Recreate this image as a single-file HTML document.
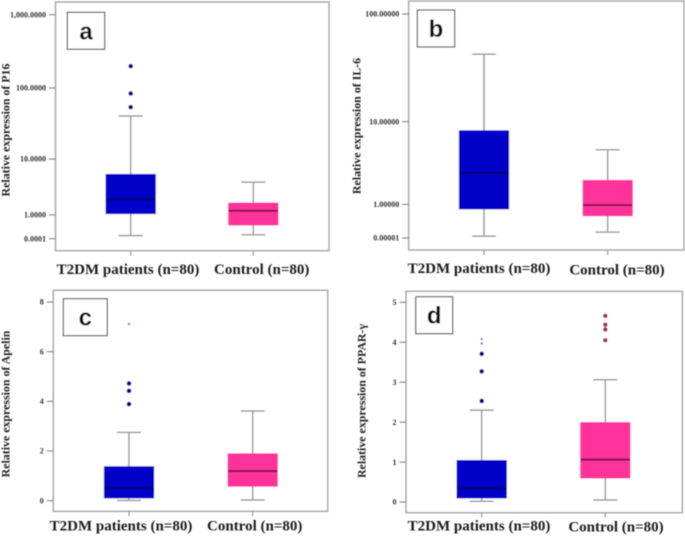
<!DOCTYPE html>
<html lang="en">
<head>
<meta charset="utf-8">
<title>Relative expression box plots</title>
<style>
html,body{margin:0;padding:0;background:#fff;}
svg{display:block;}
.tick-label{font:bold 8px "Liberation Serif",serif;fill:#333;}
.y-title{font:bold 11.9px "Liberation Serif",serif;fill:#222;}
.x-label{font:bold 15px "Liberation Serif",serif;fill:#1c1c1c;}
.letter{font:bold 24px "Liberation Sans",sans-serif;fill:#111;}
</style>
</head>
<body>
<svg id="chart" xmlns="http://www.w3.org/2000/svg" width="685" height="536" viewBox="0 0 685 536">
  <defs><filter id="soft" x="-2%" y="-2%" width="104%" height="104%"><feGaussianBlur stdDeviation="0.45"/></filter></defs>
  <rect x="0" y="0" width="685" height="536" fill="#fff"/>
  <g id="root" filter="url(#soft)">
    <text class="y-title" transform="translate(9.5,130) rotate(-90)" text-anchor="middle">Relative expression of P16</text>
    <text class="y-title" transform="translate(360.5,126) rotate(-90)" text-anchor="middle">Relative expression of IL-6</text>
    <text class="y-title" transform="translate(9.5,404) rotate(-90)" text-anchor="middle">Relative expression of Apelin</text>
    <text class="y-title" transform="translate(365.5,401) rotate(-90)" text-anchor="middle">Relative expression of PPAR-γ</text>

    <text class="x-label" x="128" y="274" text-anchor="middle">T2DM patients (n=80)</text>
    <text class="x-label" x="261.7" y="274" text-anchor="middle">Control (n=80)</text>
    <text class="x-label" x="479" y="273" text-anchor="middle">T2DM patients (n=80)</text>
    <text class="x-label" x="617" y="274.5" text-anchor="middle">Control (n=80)</text>
    <text class="x-label" x="121" y="530.5" text-anchor="middle">T2DM patients (n=80)</text>
    <text class="x-label" x="254.7" y="530.5" text-anchor="middle">Control (n=80)</text>
    <text class="x-label" x="479" y="530.5" text-anchor="middle">T2DM patients (n=80)</text>
    <text class="x-label" x="616" y="531.5" text-anchor="middle">Control (n=80)</text>
  </g>
</svg>
<script>
// Box values are ordered: lower whisker, Q1, median, Q3, upper whisker.
const aTicks = [0.0001, 1, 10, 100, 1000];
const aTickLabels = ['0.0001', '1.0000', '10.0000', '100.0000', '1,000.0000'];
const aPatientsBox = [0.09, 1.07, 2.2, 5.85, 41];
const aPatientsOutliers = [54.5, 84, 199];
const aPatientsFaint = [];
const aControlBox = [0.12, 0.48, 1.26, 1.85, 4.4];
const aControlOutliers = [];

const bTicks = [0.00001, 1, 10, 100];
const bTickLabels = ['0.00001', '1.00000', '10.00000', '100.00000'];
const bPatientsBox = [0.04, 0.82, 2.84, 8.12, 43.2];
const bPatientsOutliers = [];
const bPatientsFaint = [];
const bControlBox = [0.13, 0.58, 0.97, 2.28, 5.16];
const bControlOutliers = [];

const cTicks = [0, 2, 4, 6, 8];
const cTickLabels = ['0', '2', '4', '6', '8'];
const cPatientsBox = [0.01, 0.11, 0.5, 1.37, 2.75];
const cPatientsOutliers = [3.89, 4.42, 4.72];
const cPatientsFaint = [7.11];
const cControlBox = [0.03, 0.58, 1.19, 1.89, 3.61];
const cControlOutliers = [];

const dTicks = [0, 1, 2, 3, 4, 5];
const dTickLabels = ['0', '1', '2', '3', '4', '5'];
const dPatientsBox = [0.02, 0.10, 0.34, 1.04, 2.30];
const dPatientsOutliers = [2.53, 3.27, 3.71];
const dPatientsFaint = [3.97, 4.08];
const dControlBox = [0.05, 0.60, 1.06, 1.99, 3.06];
const dControlOutliers = [4.05, 4.32, 4.44, 4.66];

const NS = 'http://www.w3.org/2000/svg';
const root = document.getElementById('root');

function make(tag, attrs, parent) {
  const el = document.createElementNS(NS, tag);
  for (const k in attrs) el.setAttribute(k, attrs[k]);
  parent.appendChild(el);
  return el;
}

// Shifted-log or linear value axis, anchored on the first and last tick.
function makeYScale(ticks, shift, yLow, yHigh) {
  const t = shift ? (v) => Math.log10(v + shift) : (v) => v;
  const t0 = t(ticks[0]);
  const t1 = t(ticks[ticks.length - 1]);
  return (v) => yLow + (t(v) - t0) / (t1 - t0) * (yHigh - yLow);
}

function drawLine(parent, x1, y1, x2, y2, stroke, width, name) {
  const el = make('line', { x1, y1, x2, y2, stroke, 'stroke-width': width }, parent);
  
  
  return el;
}

function drawDots(parent, cx, values, y, r, fill, name) {
  values.forEach((v) => {
    const el = make('circle', { cx, cy: y(v), r, fill }, parent);
    
    
  });
}

function drawBox(parent, cx, values, y, fill, medianColor, key, yAxisBottom) {
  const halfBox = 24.7;
  const halfCap = 12;
  const [low, q1, med, q3, high] = values;
  const g = make('g', {}, parent);
  
  
  drawLine(g, cx, y(high), cx, y(low), '#9a9a9a', 1.5, key + '-whisker');
  drawLine(g, cx - halfCap, y(high), cx + halfCap, y(high), '#9a9a9a', 1.5, key + '-upper-cap');
  drawLine(g, cx - halfCap, y(low), cx + halfCap, y(low), '#9a9a9a', 1.5, key + '-lower-cap');
  const box = make('rect', { x: cx - halfBox, y: y(q3), width: halfBox * 2, height: y(q1) - y(q3), fill, stroke: fill, 'stroke-width': 0.8 }, g);
  
  
  drawLine(g, cx - halfBox, y(med), cx + halfBox, y(med), medianColor, 1.8, key + '-median');
  drawLine(g, cx, yAxisBottom, cx, yAxisBottom + 5, '#8a8a8a', 1, key + '-x-tick');
}

function drawPanel(p) {
  const g = make('g', {}, root);
  
  

  const frame = make('rect', { x: p.left, y: p.top, width: p.right - p.left, height: p.bottom - p.top, fill: '#fff', stroke: '#a6a6a6', 'stroke-width': 1.5 }, g);
  
  

  const y = makeYScale(p.ticks, p.shift, p.yLow, p.yHigh);
  p.ticks.forEach((v, i) => {
    drawLine(g, p.left - 6.5, y(v), p.left, y(v), '#777', 1, 'y-tick-' + p.letter);
    const label = make('text', { class: 'tick-label', x: p.left - 9.5, y: y(v) + 2.7, 'text-anchor': 'end' }, g);
    
    
    label.textContent = p.tickLabels[i];
  });

  drawBox(g, p.x1, p.patientsBox, y, '#0000c8', '#06065e', 'patients-' + p.letter, p.bottom);
  drawBox(g, p.x2, p.controlBox, y, '#ff3399', '#6e0f48', 'control-' + p.letter, p.bottom);
  drawDots(g, p.x1, p.patientsOutliers, y, 2.3, '#00008b', 'patients-outlier-' + p.letter);
  drawDots(g, p.x1, p.patientsFaint, y, 1.2, '#6a6ac8', 'patients-extreme-' + p.letter);
  drawDots(g, p.x2, p.controlOutliers, y, 2.3, '#a8305f', 'control-outlier-' + p.letter);

  const tag = make('rect', { x: p.tagX, y: p.tagY, width: p.tagW, height: 37, fill: '#fff', stroke: '#555', 'stroke-width': 1.2 }, g);
  
  
  const letter = make('text', { class: 'letter', x: p.tagX + p.tagW / 2, y: p.tagY + 27, 'text-anchor': 'middle' }, g);
  
  
  letter.textContent = p.letter;
}

drawPanel({ letter: 'a', left: 55.5, right: 329, top: 2, bottom: 250.7, yLow: 238.7, yHigh: 14.7, shift: 0.9,
  ticks: aTicks, tickLabels: aTickLabels, x1: 130.7, x2: 253.3,
  patientsBox: aPatientsBox, patientsOutliers: aPatientsOutliers, patientsFaint: aPatientsFaint,
  controlBox: aControlBox, controlOutliers: aControlOutliers, tagX: 67.3, tagY: 12.3, tagW: 37.4 });
drawPanel({ letter: 'b', left: 408.7, right: 684, top: 1, bottom: 250, yLow: 238, yHigh: 14, shift: 1,
  ticks: bTicks, tickLabels: bTickLabels, x1: 484, x2: 607.7,
  patientsBox: bPatientsBox, patientsOutliers: bPatientsOutliers, patientsFaint: bPatientsFaint,
  controlBox: bControlBox, controlOutliers: bControlOutliers, tagX: 417.3, tagY: 10, tagW: 37.4 });
drawPanel({ letter: 'c', left: 53.3, right: 327.7, top: 290.3, bottom: 511.3, yLow: 500.7, yHigh: 302, shift: 0,
  ticks: cTicks, tickLabels: cTickLabels, x1: 129, x2: 252.7,
  patientsBox: cPatientsBox, patientsOutliers: cPatientsOutliers, patientsFaint: cPatientsFaint,
  controlBox: cControlBox, controlOutliers: cControlOutliers, tagX: 63.3, tagY: 298.7, tagW: 44 });
drawPanel({ letter: 'd', left: 406, right: 682.3, top: 291.3, bottom: 512.7, yLow: 502, yHigh: 302.3, shift: 0,
  ticks: dTicks, tickLabels: dTickLabels, x1: 481.7, x2: 605.3,
  patientsBox: dPatientsBox, patientsOutliers: dPatientsOutliers, patientsFaint: dPatientsFaint,
  controlBox: dControlBox, controlOutliers: dControlOutliers, tagX: 415.7, tagY: 296.7, tagW: 37 });
</script>
</body>
</html>
